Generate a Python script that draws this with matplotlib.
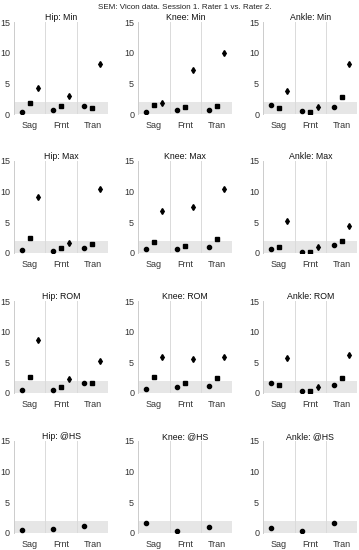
import numpy as np
import matplotlib
matplotlib.use("Agg")
from matplotlib import pyplot as plt

plt.rcParams["font.family"] = ["Liberation Sans", "DejaVu Sans"]

# planes on the x axis
planes = ["Sag", "Frnt", "Tran"]
joints = ["Hip", "Knee", "Ankle"]
measures = ["Min", "Max", "ROM", "@HS"]

# SEM values per panel: rows = planes (Sag, Frnt, Tran), cols = marker 1..3
hip_min   = [[0.38, 1.86, 4.30], [0.60, 1.37, 3.00], [1.26, 0.98, 8.15]]
knee_min  = [[0.38, 1.48, 1.86], [0.66, 1.20, 7.22], [0.66, 1.26, 9.90]]
ankle_min = [[1.42, 1.04, 3.67], [0.49, 0.38, 1.15], [1.15, 2.79, 8.15]]

hip_max   = [[0.49, 2.42, 9.07], [0.33, 0.82, 1.65], [0.82, 1.43, 10.44]]
knee_max  = [[0.66, 1.87, 6.92], [0.71, 1.21, 7.42], [1.04, 2.25, 10.50]]
ankle_max = [[0.60, 0.93, 5.22], [0.11, 0.22, 1.04], [1.37, 1.92, 4.45]]

hip_rom   = [[0.55, 2.69, 8.57], [0.49, 1.04, 2.25], [1.65, 1.65, 5.22]]
knee_rom  = [[0.66, 2.58, 5.82], [0.99, 1.70, 5.49], [1.15, 2.47, 5.82]]
ankle_rom = [[1.65, 1.37, 5.66], [0.27, 0.27, 0.99], [1.37, 2.47, 6.26]]

hip_hs   = [[0.55], [0.66], [1.21]]
knee_hs  = [[1.59], [0.38], [0.99]]
ankle_hs = [[0.77], [0.27], [1.59]]

panels = [
    [hip_min, knee_min, ankle_min],
    [hip_max, knee_max, ankle_max],
    [hip_rom, knee_rom, ankle_rom],
    [hip_hs, knee_hs, ankle_hs],
]

threshold = 2.0
markers = ["o", "s", "d"]
offsets = [-0.25, 0.0, 0.25]

fig = plt.figure(figsize=(3.59, 5.5), dpi=100)
fig.text(0.515, 0.993, "SEM: Vicon data. Session 1. Rater 1 vs. Rater 2.",
         ha="center", va="top", fontsize=5.8, color="#222222")

lefts = [14 / 359, 138.3 / 359, 263.3 / 359]
bottoms = [1 - 114 / 550, 1 - 253 / 550, 1 - 393 / 550, 1 - 533 / 550]
w = 94 / 359
h = 92 / 550

for r in range(4):
    for c in range(3):
        ax = fig.add_axes([lefts[c], bottoms[r], w, h])
        data = panels[r][c]
        ax.axhspan(0, threshold, color="#e6e6e6", zorder=0, lw=0)
        for sep in [1.5, 2.5]:
            ax.axvline(sep, color="#dadada", lw=0.7, zorder=1)
        for i in range(3):
            vals = data[i]
            for k, v in enumerate(vals):
                ms = 3.0
                ax.plot(i + 1 + offsets[k], v, marker=markers[k], color="black",
                        ms=ms, ls="none", zorder=3)
        ax.set_xlim(0.5, 3.5)
        ax.set_ylim(0, 15)
        ax.set_xticks([1, 2, 3])
        ax.set_xticklabels(planes)
        ax.set_yticks([0, 5, 10, 15])
        ax.tick_params(length=0, labelsize=6.5, colors="#333333", pad=3)
        ax.tick_params(axis="x", pad=5)
        for s in ["top", "right", "bottom"]:
            ax.spines[s].set_visible(False)
        ax.spines["left"].set_color("#cccccc")
        ax.spines["left"].set_linewidth(0.7)
        ax.set_title(joints[c] + ": " + measures[r], fontsize=6.3, pad=1.5,
                     color="#111111")

fig.savefig("out.png", dpi=100)
